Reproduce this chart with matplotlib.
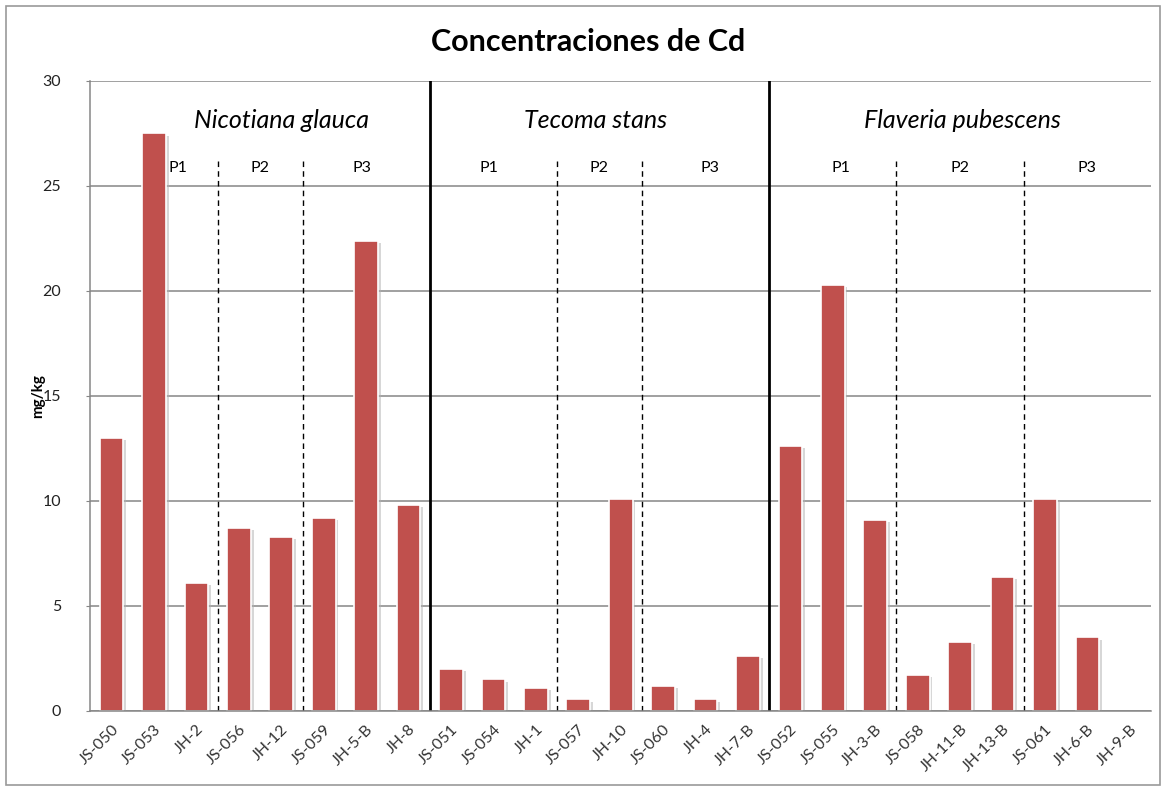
import matplotlib.pyplot as plt
import matplotlib.patheffects as pe
from matplotlib.patches import Rectangle

plt.rcParams['font.family'] = ['Lato', 'DejaVu Sans']

# sample codes and Cd concentration (mg/kg)
samples = ["JS-050", "JS-053", "JH-2", "JS-056", "JH-12", "JS-059", "JH-5-B", "JH-8",
           "JS-051", "JS-054", "JH-1", "JS-057", "JH-10", "JS-060", "JH-4", "JH-7-B",
           "JS-052", "JS-055", "JH-3-B", "JS-058", "JH-11-B", "JH-13-B", "JS-061", "JH-6-B", "JH-9-B"]
cd = [13.0, 27.5, 6.1, 8.7, 8.3, 9.2, 22.4, 9.8,
      2.0, 1.5, 1.1, 0.55, 10.1, 1.2, 0.55, 2.6,
      12.6, 20.3, 9.1, 1.7, 3.3, 6.4, 10.1, 3.5, 0.0]

species = ["Nicotiana glauca", "Tecoma stans", "Flaveria pubescens"]
species_x = [4.0, 11.4, 20.05]
species_breaks = [7.5, 15.5]          # solid separators
plot_breaks = [2.5, 4.5, 10.5, 12.5, 18.5, 21.5]   # dashed separators
plot_labels = ["P1", "P2", "P3"] * 3
plot_label_x = [1.56, 3.5, 5.9, 8.9, 11.5, 14.1, 17.2, 20.0, 23.0]

fig = plt.figure(figsize=(11.65, 7.87), dpi=100)
ax = fig.add_axes([0.0776, 0.0966, 0.9104, 0.8005])

# outer chart border
fig.patches.append(Rectangle((0.005, 0.003), 0.991, 0.99, transform=fig.transFigure,
                             fill=False, edgecolor='#9a9a9a', linewidth=1.2))

x = range(len(samples))
bars = ax.bar(x, cd, width=0.56, color='#C0504D', edgecolor='white', linewidth=1.2, zorder=3)
for b, v in zip(bars, cd):
    if v == 0:
        b.set_linewidth(0)
        continue
    b.set_path_effects([pe.SimplePatchShadow(offset=(2, -1.5), shadow_rgbFace='#b0b0b0', alpha=0.5),
                        pe.Normal()])

ax.set_xlim(-0.5, len(samples) - 0.5)
ax.set_ylim(0, 30)
ax.set_yticks(range(0, 31, 5))
ax.yaxis.grid(True, color='#868686', linewidth=1.1, zorder=0)
ax.set_axisbelow(True)

for s in ['top', 'right']:
    ax.spines[s].set_visible(False)
ax.spines['left'].set_color('#868686')
ax.spines['bottom'].set_color('#868686')
ax.spines['left'].set_linewidth(1.1)
ax.spines['bottom'].set_linewidth(1.1)
ax.spines['bottom'].set_zorder(5)

ax.set_xticks(list(x))
ax.set_xticklabels(samples, rotation=45, ha='right', rotation_mode='anchor', fontsize=11.5, color='#333333')
ax.tick_params(axis='x', length=0, pad=8)
ax.tick_params(axis='y', length=3, color='#868686', labelsize=11.5, pad=18)
for t in ax.get_yticklabels():
    t.set_color('#222222')

for xb in species_breaks:
    ax.axvline(xb, color='black', linewidth=2, zorder=4)
for xb in plot_breaks:
    ax.plot([xb, xb], [0, 26.3], color='black', linestyle=(0, (4, 3)), linewidth=1, zorder=4)

for name, sx in zip(species, species_x):
    ax.text(sx, 28.1, name, style='italic', fontsize=18, ha='center', va='center', color='black')
for lab, lx in zip(plot_labels, plot_label_x):
    ax.text(lx, 25.85, lab, fontsize=11.5, ha='center', va='center', color='black')

ax.set_ylabel("mg/kg", fontsize=11, fontweight='bold')
ax.yaxis.set_label_coords(-0.043, 0.5)
fig.text(0.505, 0.946, "Concentraciones de Cd", fontsize=22, fontweight='bold', ha='center', va='center')

fig.savefig("out.png", dpi=100)
